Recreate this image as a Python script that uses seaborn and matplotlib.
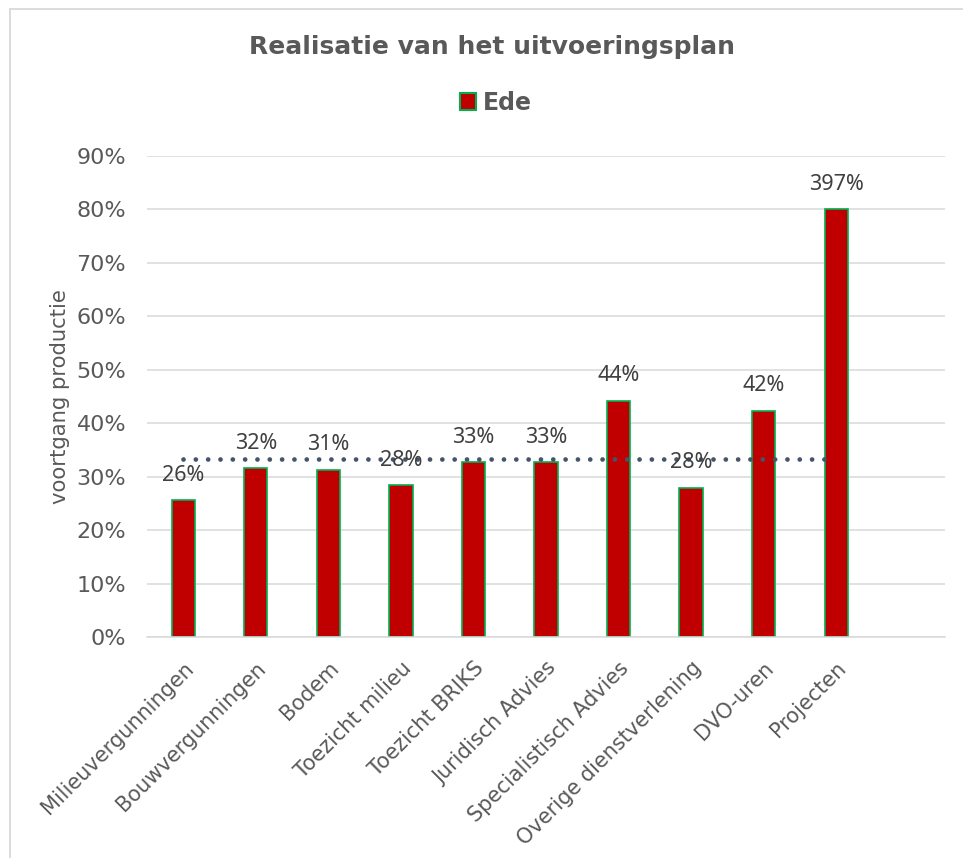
import numpy as np
import pandas as pd
import matplotlib
matplotlib.use("Agg")
import matplotlib.pyplot as plt
import seaborn as sns
from matplotlib.patches import Rectangle, Patch
from matplotlib.ticker import PercentFormatter, MultipleLocator

# Productieonderdelen en gerealiseerde voortgang (fractie van het plan)
categories = [
    "Milieuvergunningen",
    "Bouwvergunningen",
    "Bodem",
    "Toezicht milieu",
    "Toezicht BRIKS",
    "Juridisch Advies",
    "Specialistisch Advies",
    "Overige dienstverlening",
    "DVO-uren",
    "Projecten",
]
realisatie = [0.256, 0.316, 0.313, 0.284, 0.327, 0.327, 0.442, 0.279, 0.423, 3.97]
series_name = "Ede"
norm_voortgang = 4 / 12  # verwachte voortgang na vier maanden

Y_MAX = 0.90
BAR_CAP = 0.80  # uitschieters worden op deze hoogte afgekapt

df = pd.DataFrame({"onderdeel": categories, "realisatie": realisatie})
df["hoogte"] = df["realisatie"].clip(upper=BAR_CAP)

sns.set_style("white")
plt.rcParams["font.family"] = ["DejaVu Sans"]

GREY = "#595959"
RED = "#C00000"
GREEN = "#00B050"
GRID = "#D9D9D9"

W, H = 963, 858
fig = plt.figure(figsize=(W / 100, H / 100), dpi=100)
fig.patch.set_facecolor("white")

# kader rond het diagram
fig.add_artist(Rectangle((10 / W, -0.2), 2.0, 1.2 - 9 / H, transform=fig.transFigure,
                         fill=False, edgecolor=GRID, linewidth=1.3))

ax = fig.add_axes([147 / W, 1 - 637 / H, (945 - 147) / W, (637 - 156) / H])

sns.barplot(data=df, x="onderdeel", y="hoogte", color=RED, saturation=1,
            width=0.32, edgecolor=GREEN, linewidth=1.2, ax=ax, zorder=2)

n = len(categories)
ax.plot(np.arange(n), np.full(n, norm_voortgang), color="#44546A", linewidth=3.4,
        linestyle=(0, (0.01, 2.6)), dash_capstyle="round", zorder=3)

for i, (v, h) in enumerate(zip(df["realisatie"], df["hoogte"])):
    ax.annotate(f"{v:.0%}", (i, h), xytext=(0, 18), textcoords="offset points",
                ha="center", va="center", fontsize=15.5, family="Noto Sans",
                color="#404040", zorder=4)

ax.set_xlim(-0.5, n + 0.5)
ax.set_ylim(0, Y_MAX)
ax.yaxis.set_major_locator(MultipleLocator(0.1))
ax.yaxis.set_major_formatter(PercentFormatter(1.0, decimals=0))
ax.grid(axis="y", color=GRID, linewidth=1.1, zorder=0)
ax.set_axisbelow(True)
for s in ["left", "right", "top"]:
    ax.spines[s].set_visible(False)
ax.spines["bottom"].set_color(GRID)
ax.spines["bottom"].set_linewidth(1.1)

ax.tick_params(axis="both", length=0, colors=GREY)
ax.tick_params(axis="y", pad=15, labelsize=16)
ax.tick_params(axis="x", pad=15, labelsize=15)
ax.set_xticks(range(n))
ax.set_xticklabels(categories, rotation=45, ha="right", rotation_mode="anchor")
ax.set_xlabel("")
ax.set_ylabel("voortgang productie", fontsize=15.2, color=GREY)
ax.yaxis.set_label_coords(-0.097, 0.5)

fig.text(492 / W, 1 - 47 / H, "Realisatie van het uitvoeringsplan", ha="center",
         va="center", fontsize=18, fontweight="bold", color=GREY)

handle = Patch(facecolor=RED, edgecolor=GREEN, linewidth=1.5)
fig.legend(handles=[handle], labels=[series_name], loc="center",
           bbox_to_anchor=(496 / W, 1 - 103 / H), frameon=False,
           handlelength=0.65, handleheight=0.7, handletextpad=0.3,
           prop={"size": 17, "weight": "bold"}, labelcolor=GREY)

fig.savefig("out.png", dpi=100, facecolor="white")
